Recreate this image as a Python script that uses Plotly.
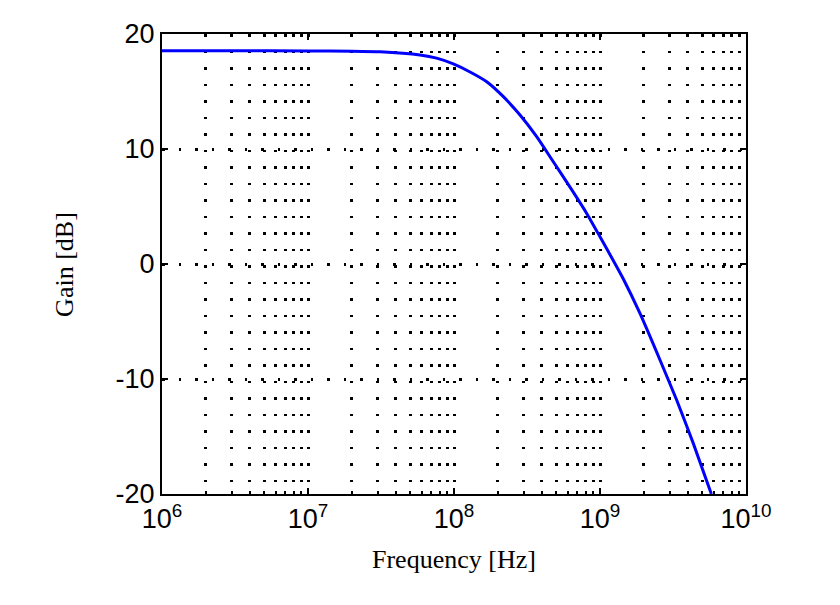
import plotly.graph_objects as go

# Data
freq_hz = [1.0e6, 3.16e6, 1.0e7, 2.0e7, 3.11e7, 5.85e7, 7.60e7, 9.89e7, 1.288e8,
           1.675e8, 2.178e8, 2.833e8, 3.684e8, 4.545e8, 6.56e8, 8.11e8, 1.0e9,
           1.233e9, 1.445e9, 1.879e9, 2.576e9, 3.35e9, 4.355e9, 5.79e9]
gain_db = [18.55, 18.55, 18.53, 18.5, 18.45, 18.17, 17.9, 17.4, 16.7,
           15.85, 14.55, 12.95, 11.07, 9.33, 6.25, 4.4, 2.37,
           0.3, -1.3, -4.3, -8.35, -11.83, -15.6, -20.0]

x_major = [1e6, 1e7, 1e8, 1e9, 1e10]
x_major_text = ["10<sup>6</sup>", "10<sup>7</sup>", "10<sup>8</sup>", "10<sup>9</sup>", "10<sup>10</sup>"]
x_minor = [m * d for d in [1e6, 1e7, 1e8, 1e9] for m in range(2, 10)]
y_ticks = [-20, -10, 0, 10, 20]
y_tick_text = ["-20", "-10", "0", "10", "20"]

fig = go.Figure()
fig.add_trace(go.Scatter(x=freq_hz, y=gain_db, mode="lines",
                         line=dict(color="#0000ff", width=3, shape="spline", smoothing=0.5),
                         showlegend=False))

grid_dash = "2.5px,14px"
fig.update_layout(
    width=840, height=605,
    margin=dict(l=154, r=102, t=26, b=119),
    paper_bgcolor="white", plot_bgcolor="white",
    font=dict(family="Liberation Sans, Arial", size=27, color="black"),
    xaxis=dict(
        type="log", range=[6, 10],
        tickmode="array", tickvals=x_major, ticktext=x_major_text,
        ticks="inside", ticklen=6, tickwidth=1.5, tickcolor="black",
        showline=True, linecolor="black", linewidth=2, mirror="ticks",
        showgrid=True, gridcolor="black", gridwidth=2.5, griddash=grid_dash,
        zeroline=False,
        minor=dict(tickmode="array", tickvals=x_minor, ticks="inside", ticklen=3,
                   tickwidth=1.5, tickcolor="black", showgrid=True,
                   gridcolor="black", gridwidth=2.5, griddash=grid_dash),
        tickfont=dict(family="Liberation Sans, Arial", size=27),
    ),
    yaxis=dict(
        range=[-20, 20],
        tickmode="array", tickvals=y_ticks, ticktext=y_tick_text,
        ticks="inside", ticklen=6, tickwidth=1.5, tickcolor="black",
        showline=True, linecolor="black", linewidth=2, mirror="ticks",
        showgrid=True, gridcolor="black", gridwidth=2.5, griddash=grid_dash,
        zeroline=False,
        tickfont=dict(family="Liberation Sans, Arial", size=27),
    ),
    annotations=[
        dict(text="Frequency [Hz]", xref="paper", yref="paper", x=0.5, y=-0.143,
             xanchor="center", yanchor="middle", showarrow=False,
             font=dict(family="Liberation Serif, Times New Roman", size=26)),
        dict(text="Gain [dB]", xref="paper", yref="paper", x=-0.168, y=0.5,
             xanchor="center", yanchor="middle", showarrow=False, textangle=-90,
             font=dict(family="Liberation Serif, Times New Roman", size=26)),
    ],
)

fig.write_html("out.html")
